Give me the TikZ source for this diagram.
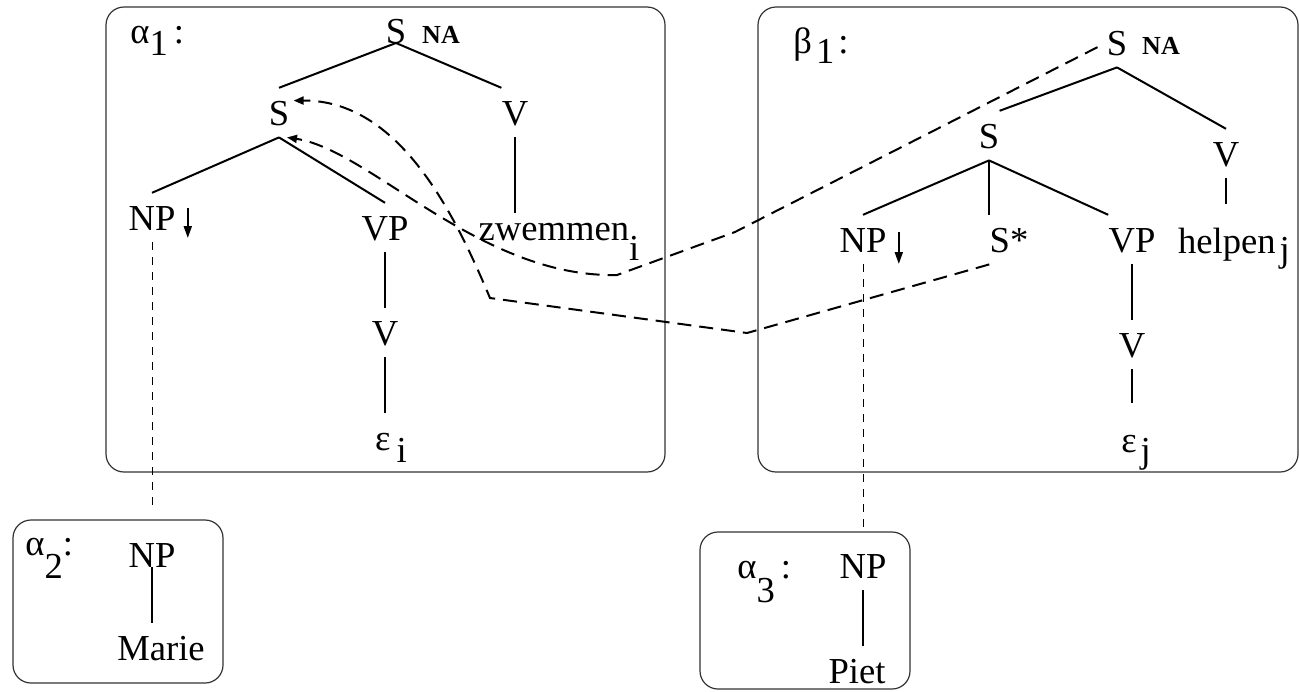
\documentclass[tikz,border=0pt]{standalone}
\usepackage{fontspec}
\setmainfont{Liberation Serif}
\usetikzlibrary{positioning,arrows.meta,calc}

\begin{document}
\begin{tikzpicture}[x=0.5pt,y=-0.5pt,
    every node/.style={font=\fontsize{18.3}{22}\selectfont},
    lab/.style={anchor=base,inner xsep=0pt,inner ysep=6pt,text height=12.4pt,text depth=0pt},
    tag/.style={anchor=base west,inner sep=0pt},
    na/.style={anchor=base,inner sep=0pt,font=\fontsize{13}{15}\selectfont\bfseries},
    tree/.style={line width=1pt},
    frame/.style={draw=black!80,line width=0.6pt,rounded corners=9pt},
    subst/.style={line width=0.5pt,dash pattern=on 4pt off 3.5pt},
    link/.style={line width=1pt,dash pattern=on 7pt off 4pt,-{Triangle[length=5pt,width=4pt]}},
    down/.style={line width=1pt,-{Triangle[length=6pt,width=4pt]}}]
  \useasboundingbox (0,0) rectangle (1299,691);
  % frames of the four elementary trees
  \foreach \x/\y/\X/\Y in {106/7/665/472, 758/7/1298/472, 13/520/223/683, 700/532/910/689}
    \draw[frame] (\x,\y) rectangle (\X,\Y);

  % alpha_1
  \node[tag] (a1tag) at (130,43) {α\raisebox{-6pt}{1}\hspace{3pt}:};
  \node[lab] (a1top) at (396,43) {S};
  \node[na]  (a1na)  at (441,43) {NA};
  \node[lab] (a1s)   at (279,125) {S};
  \node[lab] (a1v)   at (515,125) {V};
  \node[lab] (a1np)  at (152,230) {NP};
  \node[lab] (a1vp)  at (385,240) {VP};
  \node[lab] (a1zw)  at (559,240) {zwemmen\raisebox{-10pt}{i}};
  \node[lab] (a1vv)  at (385,345) {V};
  \node[lab] (a1eps) at (391,450) {ε\hspace{3pt}\raisebox{-6pt}{i}};
  \foreach \a/\b in {a1top.base/a1s.north, a1top.base/a1v.north west,
                     a1s.south/a1np.north, a1s.south/a1vp.north, a1vp.south/a1vv.north,
                     a1vv.south/a1vv.south |- a1eps.north}
    \draw[tree] (\a) -- (\b);
  \draw[tree,shorten >=-5pt] (a1v.south) -- (a1v.south |- a1zw.north);
  \draw[down] ($(a1np.base east)+(12,-22)$) -- ($(a1np.base east)+(12,8)$);

  % beta_1
  \node[tag] (b1tag)   at (793,53) {β\hspace{2pt}\raisebox{-5pt}{1}\hspace{2pt}:};
  \node[lab] (b1top)   at (1117,55) {S};
  \node[na]  (b1na)    at (1161,54) {NA};
  \node[lab] (b1s)     at (989,148) {S};
  \node[lab] (b1v)     at (1226,166) {V};
  \node[lab] (b1np)    at (863,252) {NP};
  \node[lab] (b1sstar) at (1009,252) {S*};
  \node[lab] (b1vp)    at (1132,252) {VP};
  \node[lab] (b1help)  at (1234,253) {helpen\hspace{2pt}\raisebox{-4pt}{j}};
  \node[lab] (b1vv)    at (1132,357) {V};
  \node[lab] (b1eps)   at (1136,452) {ε\hspace{2pt}\raisebox{-5pt}{j}};
  \foreach \a/\b in {b1top.south/b1s.north east, b1top.south/b1v.north,
                     b1s.south/b1np.north, b1s.south/b1s.south |- b1sstar.north,
                     b1s.south/b1vp.north west, b1vp.south/b1vp.south |- b1vv.north}
    \draw[tree] (\a) -- (\b);
  \draw[tree,shorten >=6pt] (b1v.south) -- (b1v.south |- b1help.north);
  \draw[tree,shorten >=6pt] (b1vv.south) -- (b1vv.south |- b1eps.north);
  \draw[down] ($(b1np.base east)+(12,-20)$) -- ($(b1np.base east)+(12,12)$);

  % alpha_2 and alpha_3
  \node[tag] (a2tag)   at (25,555) {α\raisebox{-11.5pt}{2}:};
  \node[lab] (a2np)    at (152,567) {NP};
  \node[lab] (a2marie) at (161,660) {Marie};
  \draw[tree] (a2np.base) -- (a2np.base |- a2marie.north);
  \node[tag] (a3tag)   at (737,578) {α\raisebox{-12pt}{3}\hspace{3pt}:};
  \node[lab] (a3np)    at (863,578) {NP};
  \node[lab] (a3piet)  at (857,683) {Piet};
  \draw[tree] (a3np.south) -- (a3np.south |- a3piet.north);

  % substitution
  \draw[subst,shorten >=10pt] (a1np.south) -- (a1np.south |- a2np.north);
  \draw[subst,shorten >=4.5pt] (b1np.south) -- (a3np.north);

  % adjunction links
  \coordinate (bendA1) at (747,333);
  \coordinate (bendA2) at (490,298);
  \coordinate (bendB1) at (735,232);
  \coordinate (bendB2) at (617,275);
  \coordinate (tipA) at ($(a1s.east)+(4,-12)$);
  \coordinate (tipB) at ($(a1s.south)+(8,0)$);
  \draw[link] (b1sstar.south west) -- (bendA1) -- (bendA2)
     .. controls (455,215) and (400,100) .. (tipA);
  \draw[link,shorten <=5pt] (b1top.west) -- (bendB1) -- (bendB2)
     .. controls (480,278) and (370,150) .. (tipB);
\end{tikzpicture}
\end{document}
